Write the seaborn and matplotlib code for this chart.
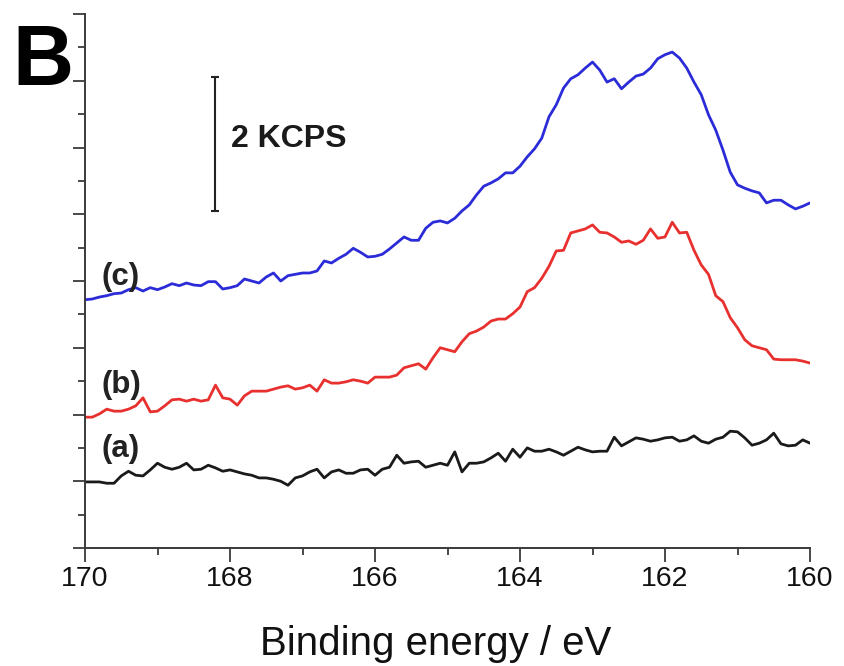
import numpy as np
import pandas as pd
import matplotlib
matplotlib.use("Agg")
import matplotlib.pyplot as plt
import seaborn as sns
from matplotlib.ticker import MultipleLocator

sns.set_style("ticks")
plt.rcParams['font.family'] = ['Liberation Sans', 'DejaVu Sans']

# Binding energy grid (eV), 170 -> 160 in 0.1 eV steps
energy = np.round(np.linspace(170.0, 160.0, 101), 1)

# Intensities in KCPS (with vertical offsets as in the figure)
curve_a = [0.99, 0.99, 0.99, 0.97, 0.97, 1.08, 1.15, 1.09, 1.08, 1.17,
           1.27, 1.21, 1.18, 1.21, 1.27, 1.17, 1.18, 1.24, 1.20, 1.15,
           1.17, 1.14, 1.11, 1.09, 1.05, 1.05, 1.03, 1.00, 0.94, 1.05,
           1.08, 1.14, 1.18, 1.05, 1.14, 1.17, 1.12, 1.12, 1.17, 1.18,
           1.09, 1.18, 1.21, 1.39, 1.27, 1.29, 1.30, 1.21, 1.24, 1.27,
           1.24, 1.44, 1.14, 1.27, 1.27, 1.29, 1.35, 1.42, 1.30, 1.48,
           1.36, 1.50, 1.45, 1.45, 1.48, 1.44, 1.39, 1.45, 1.51, 1.47,
           1.44, 1.45, 1.45, 1.66, 1.53, 1.59, 1.65, 1.63, 1.60, 1.62,
           1.65, 1.66, 1.60, 1.62, 1.68, 1.60, 1.57, 1.63, 1.66, 1.75,
           1.74, 1.65, 1.54, 1.57, 1.62, 1.72, 1.56, 1.53, 1.54, 1.62,
           1.57]
curve_b = [1.96, 1.96, 2.01, 2.08, 2.05, 2.05, 2.08, 2.13, 2.25, 2.04,
           2.05, 2.13, 2.22, 2.23, 2.20, 2.23, 2.20, 2.22, 2.44, 2.25,
           2.23, 2.14, 2.28, 2.35, 2.35, 2.35, 2.38, 2.41, 2.43, 2.38,
           2.40, 2.44, 2.35, 2.52, 2.47, 2.47, 2.49, 2.52, 2.50, 2.47,
           2.56, 2.56, 2.56, 2.59, 2.70, 2.73, 2.76, 2.68, 2.85, 3.00,
           2.97, 2.94, 3.09, 3.21, 3.25, 3.31, 3.40, 3.43, 3.43, 3.51,
           3.61, 3.84, 3.90, 4.04, 4.22, 4.45, 4.46, 4.72, 4.75, 4.78,
           4.84, 4.73, 4.72, 4.66, 4.58, 4.60, 4.55, 4.61, 4.78, 4.64,
           4.66, 4.88, 4.72, 4.73, 4.46, 4.24, 4.10, 3.78, 3.69, 3.45,
           3.30, 3.12, 3.03, 3.00, 2.97, 2.83, 2.82, 2.82, 2.82, 2.80,
           2.77]
curve_c = [3.72, 3.73, 3.76, 3.78, 3.81, 3.82, 3.87, 3.90, 3.85, 3.90,
           3.87, 3.91, 3.96, 3.93, 3.97, 3.94, 3.93, 3.99, 3.99, 3.88,
           3.90, 3.93, 4.03, 4.00, 3.97, 4.06, 4.12, 4.00, 4.08, 4.10,
           4.12, 4.12, 4.15, 4.30, 4.27, 4.34, 4.40, 4.49, 4.43, 4.36,
           4.37, 4.40, 4.48, 4.57, 4.66, 4.61, 4.61, 4.79, 4.88, 4.90,
           4.87, 4.94, 5.05, 5.14, 5.29, 5.42, 5.47, 5.53, 5.62, 5.62,
           5.72, 5.86, 5.98, 6.14, 6.46, 6.64, 6.89, 7.03, 7.09, 7.19,
           7.28, 7.16, 6.98, 7.03, 6.88, 6.98, 7.07, 7.10, 7.19, 7.33,
           7.39, 7.43, 7.34, 7.19, 6.98, 6.79, 6.49, 6.26, 5.96, 5.63,
           5.44, 5.39, 5.35, 5.32, 5.17, 5.21, 5.21, 5.14, 5.08, 5.12,
           5.17]

series_names = ["(a)", "(b)", "(c)"]
series_colors = ["#1a1a1a", "#e8302f", "#2b2bd8"]
label_y = [1.36, 2.32, 3.94]
label_x = 169.77

scale_bar_x = 168.21
scale_bar_center = 6.05
scale_bar_half = 1.0
scale_bar_text = "2 KCPS"

df = pd.concat([
    pd.DataFrame({"energy": energy, "intensity": vals, "series": name})
    for name, vals in zip(series_names, [curve_a, curve_b, curve_c])
], ignore_index=True)

fig = plt.figure(figsize=(8.45, 6.66), dpi=100)
ax = fig.add_axes([85 / 845, 1 - 548 / 666, (810 - 85) / 845, (548 - 14) / 666])

sns.lineplot(data=df, x="energy", y="intensity", hue="series",
             palette=dict(zip(series_names, series_colors)),
             linewidth=2.0, sort=False, legend=False, ax=ax)

ax.set_xlim(170, 160)
ax.set_ylim(0, 8)
ax.xaxis.set_major_locator(MultipleLocator(2))
ax.xaxis.set_minor_locator(MultipleLocator(1))
ax.yaxis.set_major_locator(MultipleLocator(1))
ax.yaxis.set_minor_locator(MultipleLocator(0.5))
ax.set_yticklabels([])
ax.set_xticklabels([f"{int(v)}" for v in ax.get_xticks()])
ax.set_xlabel("")
ax.set_ylabel("")

axis_color = "#3a3a3a"
for side in ["left", "bottom"]:
    ax.spines[side].set_color(axis_color)
    ax.spines[side].set_linewidth(1.4)
sns.despine(ax=ax)
ax.tick_params(axis="both", which="major", direction="out", length=9,
               width=1.3, color=axis_color)
ax.tick_params(axis="x", which="major", length=10, labelsize=20.5, pad=3)
ax.tick_params(axis="both", which="minor", direction="out", length=5,
               width=1.3, color=axis_color)
for t in ax.get_xticklabels():
    t.set_color("#111111")

for name, yv, col in zip(series_names, label_y, series_colors):
    ax.text(label_x, yv, name, fontsize=22.5, fontweight="bold",
            color="#222222", ha="left", va="baseline")

ax.errorbar([scale_bar_x], [scale_bar_center], yerr=[scale_bar_half],
            color="#222222", capsize=3, elinewidth=1.5, capthick=1.5, fmt="none")
ax.text(167.98, 6.13, scale_bar_text, fontsize=23, fontweight="bold",
        color="#1a1a1a", ha="left", va="center")

fig.text(12 / 845, 1 - 85 / 666, "B", fontsize=61, fontweight="bold",
         color="black", ha="left", va="baseline")
fig.text(436 / 845, 1 - 655 / 666, "Binding energy / eV", fontsize=29,
         color="#111111", ha="center", va="baseline")

fig.savefig("out.png", dpi=100)
